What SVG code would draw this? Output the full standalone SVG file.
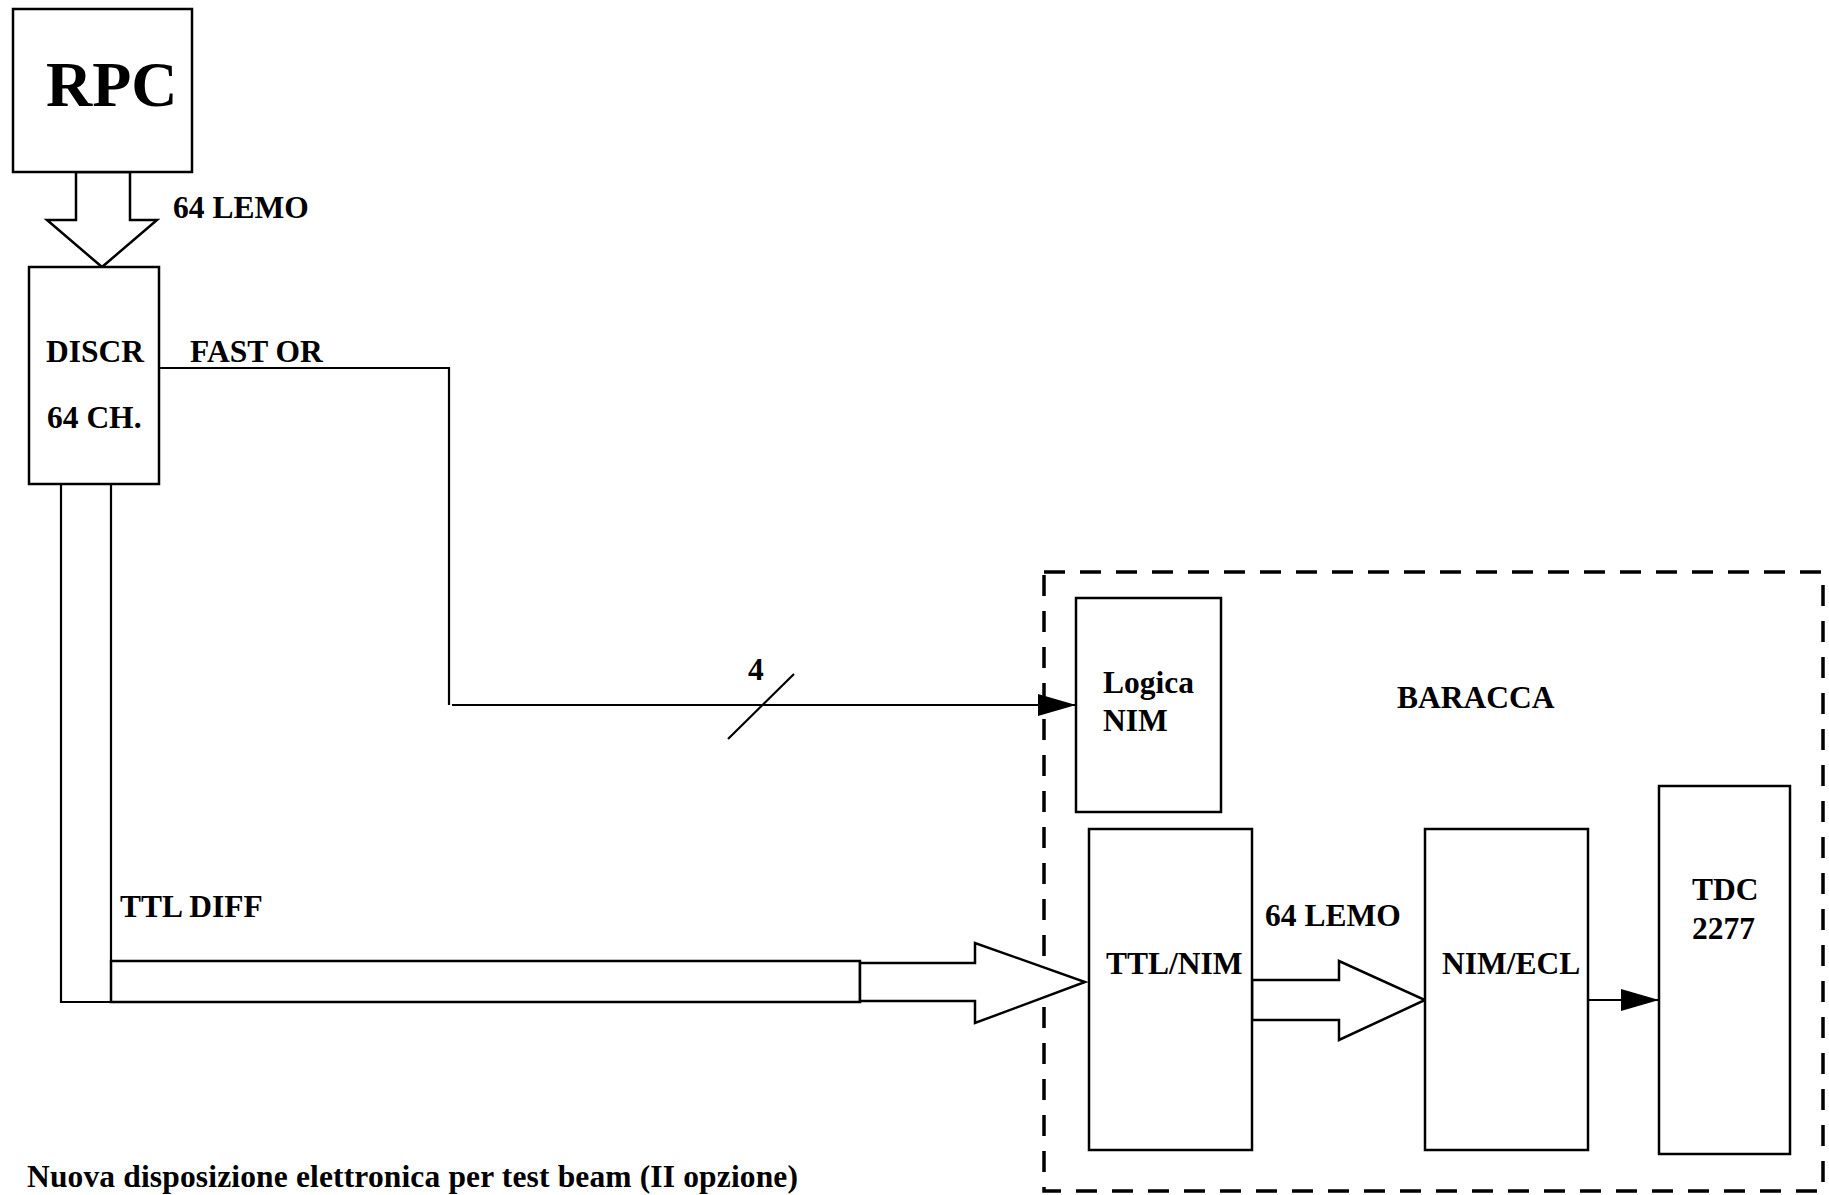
<svg xmlns="http://www.w3.org/2000/svg" width="1829" height="1195" viewBox="0 0 1829 1195">
<style>
.box{fill:#fff;stroke:#000;stroke-width:2.5}
.ln{fill:none;stroke:#000;stroke-width:2.2}
.hol{fill:#fff;stroke:#000;stroke-width:2.5;stroke-linejoin:miter}
.dash{fill:none;stroke:#000;stroke-width:3.5;stroke-dasharray:21 15}
text{font-family:"Liberation Serif","Times New Roman",serif;font-weight:bold;font-size:31.5px;fill:#000}
</style>
<defs>
<marker id="ah" markerUnits="userSpaceOnUse" markerWidth="40" markerHeight="24" refX="38" refY="11" orient="auto">
<path d="M0,0 L38,11 L0,22 Z" fill="#000"/>
</marker>
</defs>
<rect width="1829" height="1195" fill="#fff"/>

<g id="baracca">
<rect class="dash" x="1044" y="572" width="779" height="619"/>
<text x="1397" y="708">BARACCA</text>
</g>

<g id="connectors">
<polygon class="hol" points="76,172 130,172 130,220 157,220 102,267 47,220 76,220"/>
<text x="173" y="218">64 LEMO</text>
<polyline class="ln" points="159,368 449,368 449,705"/>
<line class="ln" x1="452" y1="705" x2="1076" y2="705" marker-end="url(#ah)"/>
<line class="ln" x1="728" y1="739" x2="794" y2="674"/>
<text x="748" y="680">4</text>
<text x="190" y="362">FAST OR</text>
<polyline class="ln" points="61,484 61,1002 860,1002"/>
<line class="ln" x1="111" y1="484" x2="111" y2="961"/>
<rect class="hol" x="111" y="961" width="749" height="41"/>
<polygon class="hol" points="860,963 975,963 975,943 1085,982 975,1023 975,1001 860,1001"/>
<text x="120" y="917">TTL DIFF</text>
<polygon class="hol" points="1252,980 1339,980 1339,961 1425,1000 1339,1040 1339,1020 1252,1020"/>
<text x="1265" y="926">64 LEMO</text>
<line class="ln" x1="1588" y1="1000" x2="1659" y2="1000" marker-end="url(#ah)"/>
</g>

<g id="rpc">
<rect class="box" x="13" y="9" width="179" height="163"/>
<text x="46" y="106" style="font-size:64px">RPC</text>
</g>

<g id="discr">
<rect class="box" x="29" y="267" width="130" height="217"/>
<text x="46" y="362">DISCR</text>
<text x="47" y="428">64 CH.</text>
</g>

<g id="logica">
<rect class="box" x="1076" y="598" width="145" height="214"/>
<text x="1103" y="693">Logica</text>
<text x="1103" y="731">NIM</text>
</g>

<g id="ttlnim">
<rect class="box" x="1089" y="829" width="163" height="321"/>
<text x="1106" y="974">TTL/NIM</text>
</g>

<g id="nimecl">
<rect class="box" x="1425" y="829" width="163" height="321"/>
<text x="1442" y="974">NIM/ECL</text>
</g>

<g id="tdc">
<rect class="box" x="1659" y="786" width="131" height="368"/>
<text x="1692" y="900">TDC</text>
<text x="1692" y="939">2277</text>
</g>

<text x="27" y="1187" textLength="771" lengthAdjust="spacing">Nuova disposizione elettronica per test beam (II opzione)</text>
</svg>
